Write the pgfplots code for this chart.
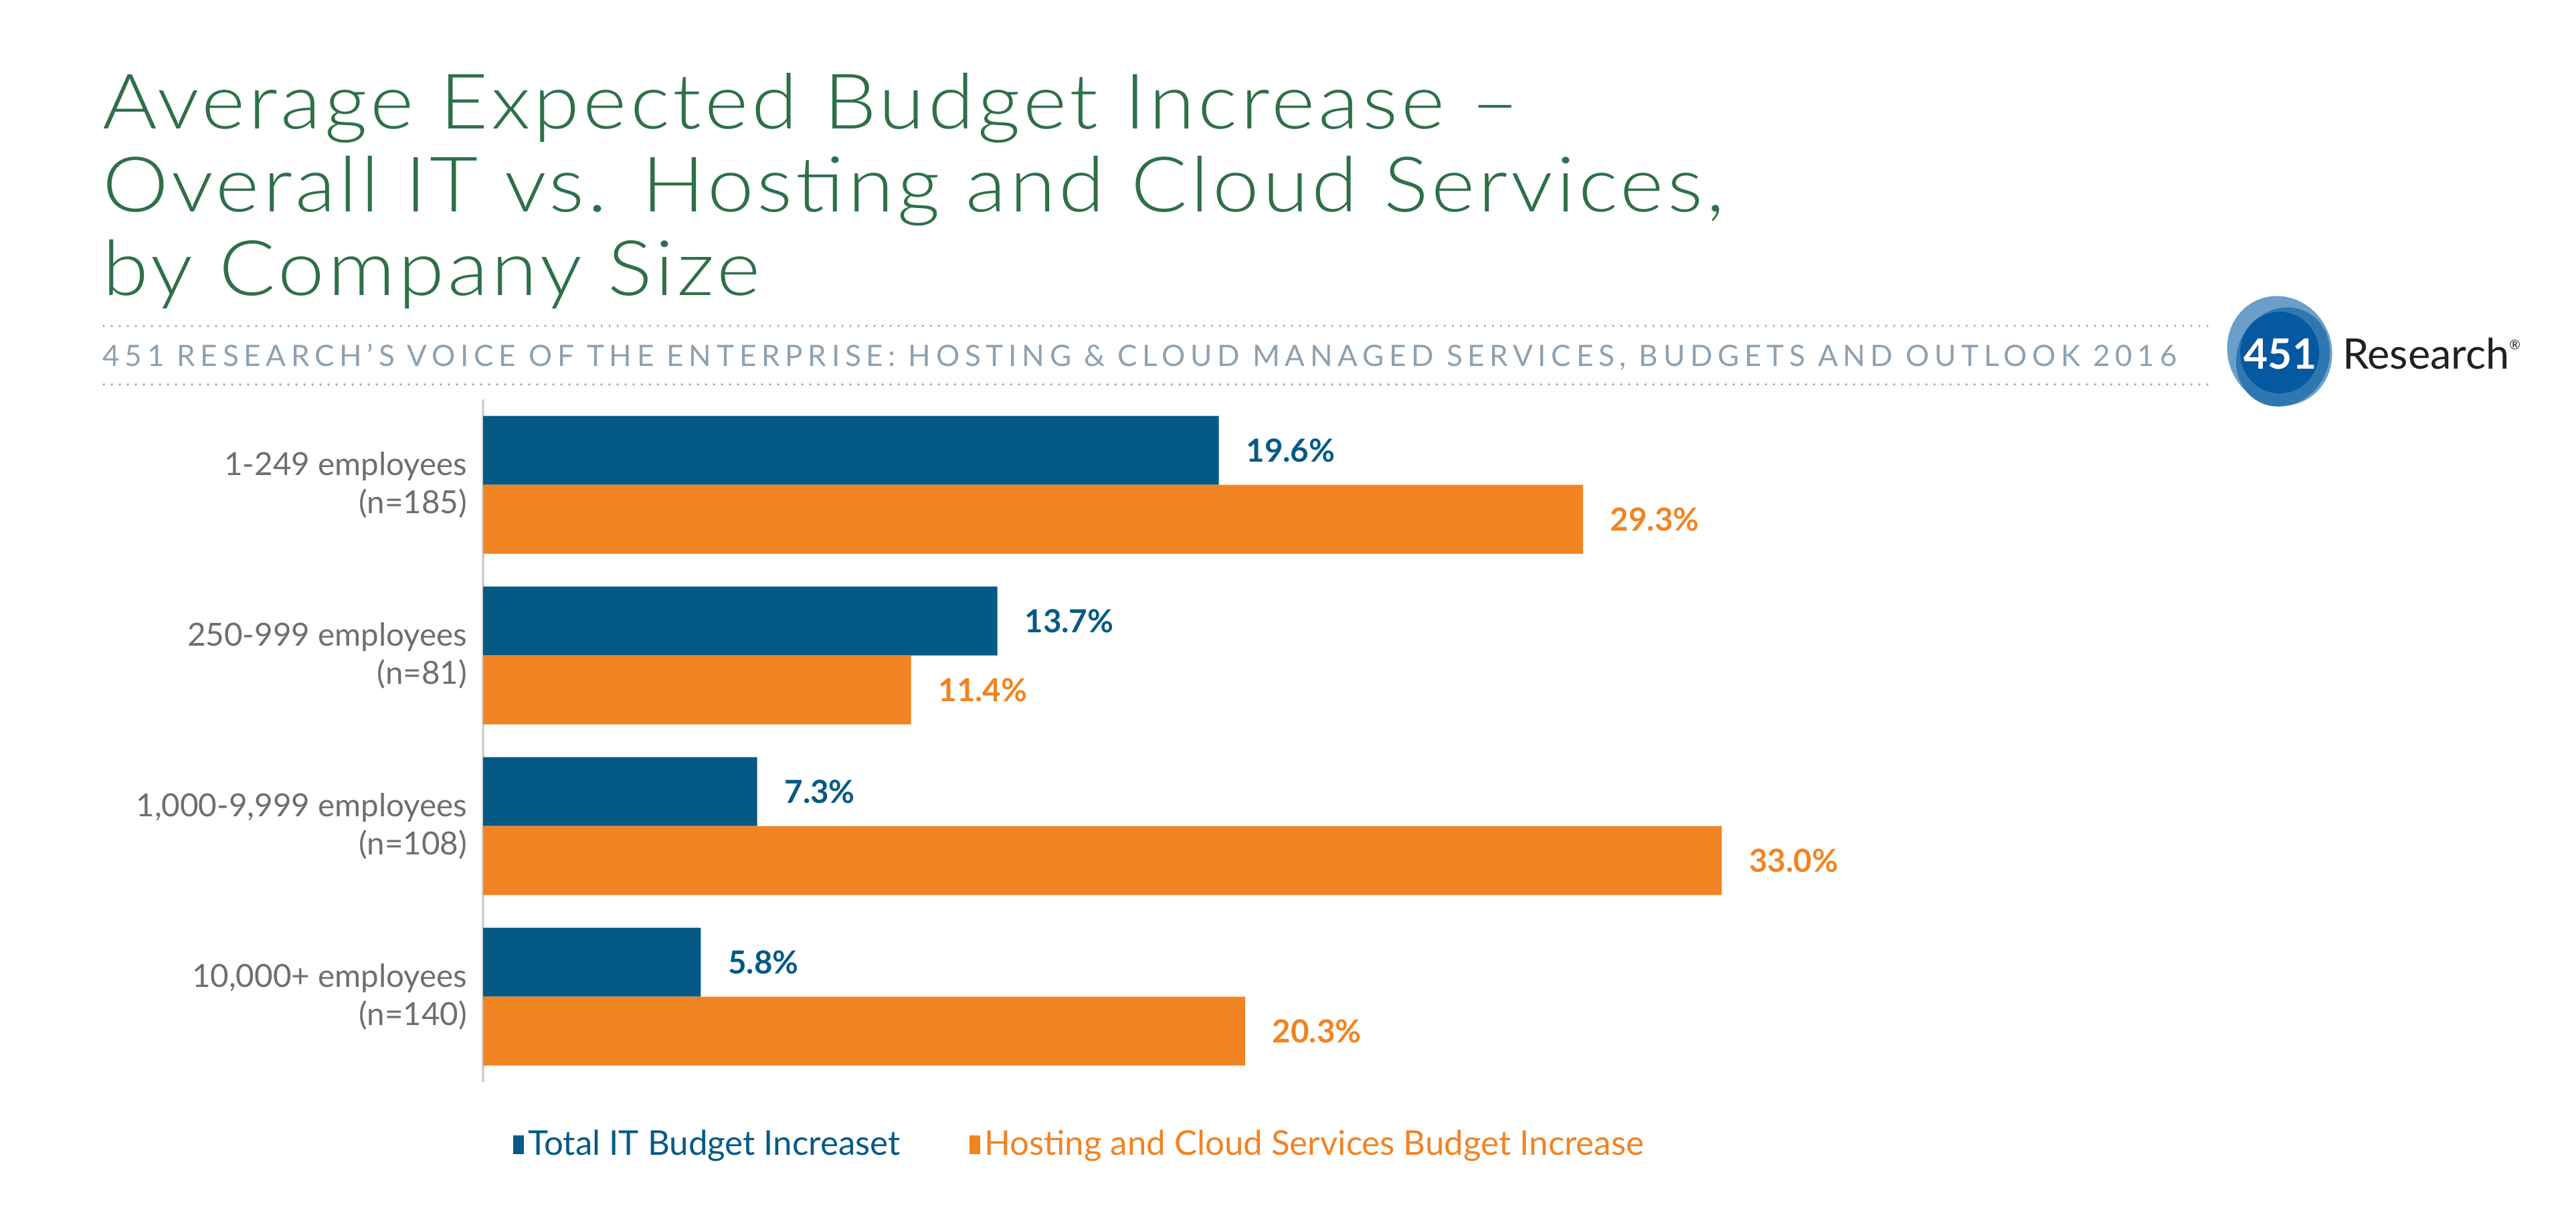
\documentclass[border=0pt]{standalone}
\usepackage{pgfplots}
\pgfplotsset{compat=1.18}
\usepackage{fontspec}
\setmainfont{Lato}
\newfontfamily\titlefont{Lato Light}[LetterSpace=4]
\definecolor{itblue}{RGB}{4,90,133}
\definecolor{hcorange}{RGB}{242,131,34}
\definecolor{titlegreen}{RGB}{46,112,73}
\definecolor{subgray}{RGB}{141,161,177}
\definecolor{labgray}{RGB}{109,110,113}
\definecolor{axisgray}{RGB}{210,210,210}
\definecolor{logolight}{RGB}{107,159,201}
\definecolor{logomid}{RGB}{47,119,177}
\definecolor{logodark}{RGB}{5,89,160}
\definecolor{logotext}{RGB}{35,31,32}
\newcommand{\tline}[1]{\scalebox{1.09}[1]{#1}}
\begin{document}
\begin{tikzpicture}[x=1pt,y=1pt]
\path (0,0) rectangle (770,360);
% title
\node[anchor=base west, inner sep=0, text=titlegreen, font=\titlefont\fontsize{22.9}{25}\selectfont] at (30.5,321.5) {\tline{Average Expected Budget Increase –}};
\node[anchor=base west, inner sep=0, text=titlegreen, font=\titlefont\fontsize{22.9}{25}\selectfont] at (30.5,296.8) {\tline{Overall IT vs. Hosting and Cloud Services,}};
\node[anchor=base west, inner sep=0, text=titlegreen, font=\titlefont\fontsize{22.9}{25}\selectfont] at (30.5,271.7) {\tline{by Company Size}};
% subtitle with dotted rules
\draw[subgray, line width=0.7pt, line cap=round, dash pattern=on 0pt off 2.4pt] (31,262.6) -- (660,262.6);
\draw[subgray, line width=0.7pt, line cap=round, dash pattern=on 0pt off 2.4pt] (31,245.1) -- (660,245.1);
\node[anchor=base west, inner sep=0, text=subgray, font=\addfontfeatures{LetterSpace=17.6}\fontsize{8.8}{10}\selectfont] at (30.5,250.5) {451 RESEARCH’S VOICE OF THE ENTERPRISE: HOSTING \& CLOUD MANAGED SERVICES, BUDGETS AND OUTLOOK 2016};
% logo
\fill[logolight] (681.4,255.1) ellipse [x radius=15.5, y radius=16.6, rotate=25];
\fill[logomid] (682.4,253.3) ellipse [x radius=13.6, y radius=15.2, rotate=-30];
\fill[logodark] (681.4,254.6) ellipse [x radius=11.8, y radius=12.2];
\node[anchor=base, inner sep=0, text=white, font=\bfseries\fontsize{12.5}{14}\selectfont] at (681.6,249.7) {451};
\node[anchor=base west, inner sep=0, text=logotext, font=\fontsize{12.6}{14}\selectfont] at (700,249.7) {Research\raisebox{0.9ex}{\fontsize{4}{5}\selectfont ®}};
\begin{axis}[
  at={(144.4pt,36.6pt)}, anchor=south west,
  scale only axis, width=561pt, height=204pt,
  xmin=0, xmax=50, ymin=-0.5, ymax=3.5,
  xbar, bar width=20.6pt,
  axis x line=none, axis y line*=left,
  y axis line style={draw=axisgray, line width=0.9pt},
  xtick=\empty,
  ytick={0,1,2,3},
  yticklabels={{10,000+ employees\\(n=140)},{1,000-9,999 employees\\(n=108)},{250-999 employees\\(n=81)},{1-249 employees\\(n=185)}},
  major tick length=0pt,
  yticklabel style={align=right, inner sep=0pt, xshift=-4.6pt, text=labgray, font=\fontsize{9.5}{11.4}\selectfont},
  /pgf/number format/assume math mode=true,
  nodes near coords={\pgfmathprintnumber[fixed,fixed zerofill,precision=1]{\pgfplotspointmeta}\%},
  every node near coord/.append style={anchor=west, inner sep=0pt, xshift=8pt, font=\bfseries\fontsize{9.5}{11}\selectfont},
  legend columns=2,
  legend image code/.code={\fill[#1,draw=none] (0pt,-2.8pt) rectangle (3.2pt,2.8pt);},
  legend style={at={(0,0)}, anchor=west, xshift=8.8pt, yshift=-18.8pt, draw=none, fill=none, inner sep=0pt,
    font=\fontsize{10.2}{12}\selectfont, nodes={inner sep=1.3pt},
    /tikz/every even column/.append style={column sep=19.4pt}},
]
\addplot+[draw=none, fill=itblue, bar shift=10.3pt, every node near coord/.append style={text=itblue}]
  coordinates {(5.8,0) (7.3,1) (13.7,2) (19.6,3)};
\addlegendentry{\textcolor{itblue}{Total IT Budget Increaset}}
\addplot+[draw=none, fill=hcorange, bar shift=-10.3pt, every node near coord/.append style={text=hcorange}]
  coordinates {(20.3,0) (33.0,1) (11.4,2) (29.3,3)};
\addlegendentry{\textcolor{hcorange}{Hosting and Cloud Services Budget Increase}}
\end{axis}
\end{tikzpicture}
\end{document}
